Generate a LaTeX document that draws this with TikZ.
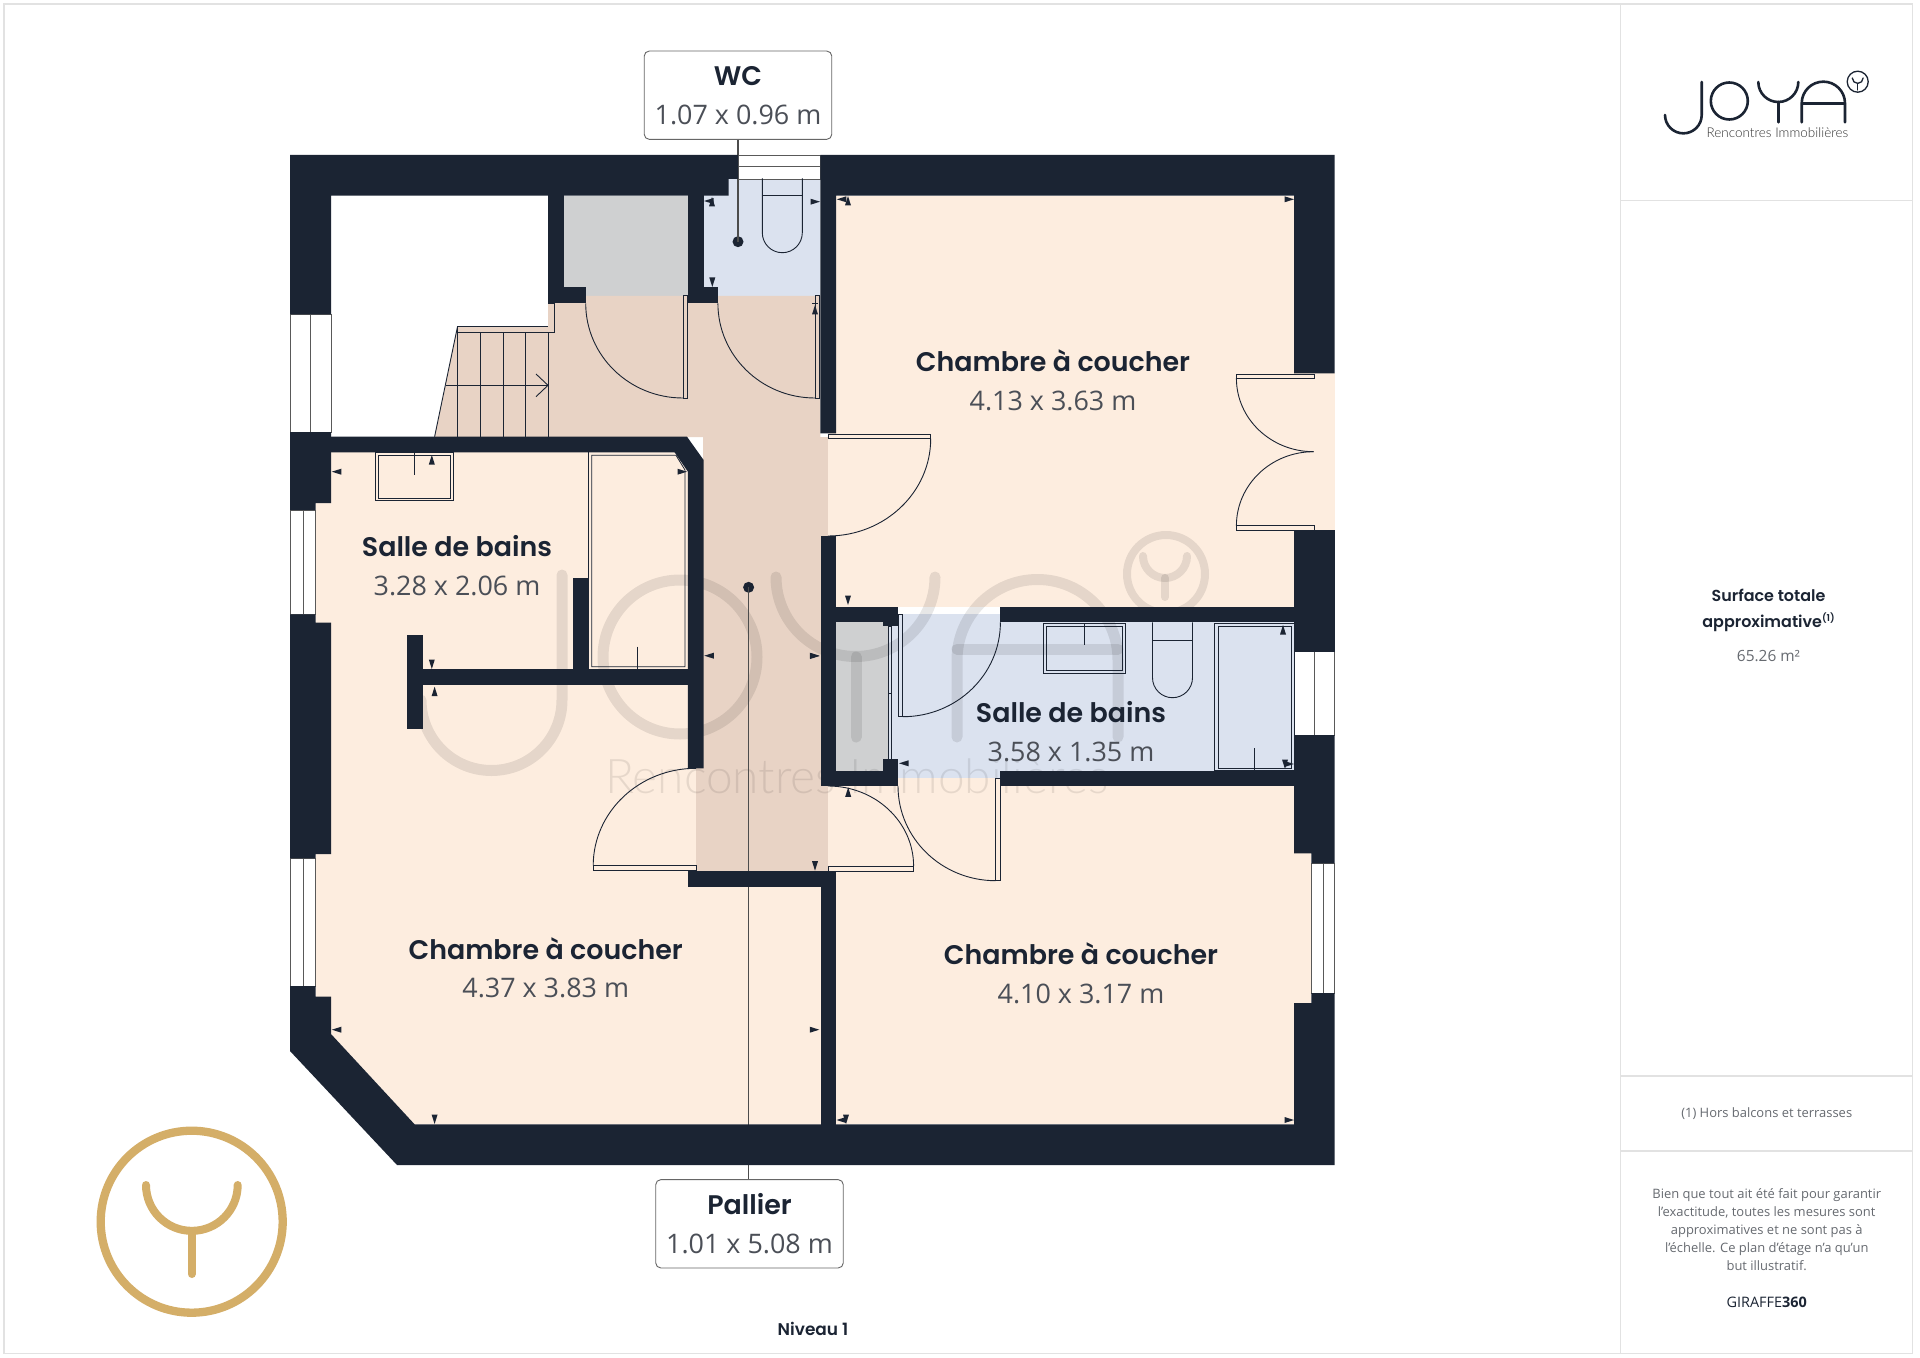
\documentclass[tikz,border=0pt]{standalone}
\usepackage{fontspec}
\setmainfont{Open Sans}
\newfontfamily\ttl{Poppins SemiBold}
\newfontfamily\lightf{Lato Light}
\newfontfamily\dimf{Open Sans}
\definecolor{wallc}{HTML}{1B2433}
\definecolor{cream}{HTML}{FDEDDF}
\definecolor{tone}{HTML}{E8D3C5}
\definecolor{bluec}{HTML}{DBE2EF}
\definecolor{greyc}{HTML}{CFD0D1}
\definecolor{gold}{HTML}{D4AE68}
\definecolor{framec}{HTML}{E2E2E2}
\definecolor{dimc}{HTML}{4B4F57}
\definecolor{notec}{HTML}{666A70}
\tikzset{
  wall/.style={fill=wallc,draw=none},
  ln/.style={draw=wallc,line width=0.9bp},
  winbox/.style={fill=white,draw=black!65,line width=0.8bp},
  doorframe/.style={fill=cream,draw=wallc,line width=0.8bp},
  toneframe/.style={fill=tone,draw=wallc,line width=0.8bp},
  roomtxt/.style={align=center,inner sep=0pt,text=wallc,font=\fontsize{27}{39}\selectfont},
  tagbox/.style={draw=black!60,line width=0.9bp,rounded corners=5bp,fill=white,minimum width=187.5bp,minimum height=88.3bp,align=center,inner sep=0pt,text=wallc,font=\fontsize{27}{39}\selectfont},
  dotn/.style={circle,fill=wallc,inner sep=0pt,minimum size=11bp},
  wm/.style={draw=black,draw opacity=0.095,line width=11bp,line cap=round},
  paneltxt/.style={align=center,inner sep=0pt,text=notec},
  mark/.style={}
}
\newcommand{\rlabel}[2]{\rule{0pt}{22pt}{\ttl\color{wallc}#1}\\{\dimf\color{dimc}#2}\rule[-8pt]{0pt}{8pt}}
\newcommand{\blabel}[2]{\rule{0pt}{28pt}{\ttl\color{wallc}#1}\\{\dimf\color{dimc}#2}\rule[-8pt]{0pt}{8pt}}
% triangles: tip at (x,y)
\newcommand{\tl}[2]{\fill[wallc] (#1,#2) -- ++(9.5,-3) -- ++(0,6) -- cycle;}
\newcommand{\trr}[2]{\fill[wallc] (#1,#2) -- ++(-9.5,-3) -- ++(0,6) -- cycle;}
\newcommand{\tu}[2]{\fill[wallc] (#1,#2) -- ++(-3,9.5) -- ++(6,0) -- cycle;}
\newcommand{\td}[2]{\fill[wallc] (#1,#2) -- ++(-3,-9.5) -- ++(6,0) -- cycle;}
\begin{document}
\begin{tikzpicture}[x=1bp,y=-1bp]
\useasboundingbox (0,0) rectangle (1920,1358);
\fill[white] (0,0) rectangle (1920,1358);
% frames
\draw[framec,line width=1.4bp] (4,4) rectangle (1620.7,1353.3);
\draw[framec,line width=1.4bp] (1620.7,4) rectangle (1912.7,1353.3);
\draw[framec,line width=1.4bp] (1620.7,200.3) -- (1912.7,200.3);
\draw[framec,line width=1.4bp] (1620.7,1076) -- (1912.7,1076);
\draw[framec,line width=1.4bp] (1620.7,1151) -- (1912.7,1151);
% room fills
\fill[cream] (315.7,452) -- (696,452) -- (696,871) -- (821,871) -- (821,1124.3) -- (414.6,1124.3) -- (331,1034) -- (315.7,1000) -- cycle;
\fill[cream] (828,195.7) rectangle (1294,607);
\fill[cream] (1294,373.3) rectangle (1334.6,530);
\fill[cream] (828,786) rectangle (1311.4,1124.3);
\fill[cream] (898,778.3) rectangle (1000.4,786);
\fill[greyc] (564,195.7) rectangle (687.5,296);
\fill[bluec] (703.6,179) rectangle (820.4,296);
\fill[tone] (548,303.3) -- (548,296) -- (820.4,296) -- (820.4,437) -- (434.6,437) -- (457.5,326.7) -- (548,326.7) -- cycle;
\fill[tone] (703,437) rectangle (828,768.3);
\fill[tone] (696,768.3) rectangle (828,871);
\fill[greyc] (836,622.3) rectangle (888,770.7);
\fill[bluec] (888,622.3) rectangle (1294,770.7);
\fill[bluec] (898,614.3) rectangle (1000.4,778.3);
% watermark
\draw[wm] (421,700) arc[start angle=180,end angle=0,radius=70.5] -- (562,575);
\draw[wm] (680,657) circle[radius=77];
\draw[wm] (776,577) arc[start angle=180,end angle=0,radius=79.5];
\draw[wm] (856,657) -- (856,737);
\draw[wm] (957,737) -- (957,660) arc[start angle=180,end angle=360,radius=80.5] -- (1118,737);
\draw[wm] (957,649) -- (1118,649);
\draw[black,draw opacity=0.095,line width=8bp] (1166,574) circle[radius=39];
\draw[black,draw opacity=0.095,line width=8bp,line cap=round] (1143,556) arc[start angle=180,end angle=0,radius=22];
\draw[black,draw opacity=0.095,line width=8bp,line cap=round] (1165,578) -- (1165,597);
\node[inner sep=0pt,text=black,text opacity=0.09,font=\lightf\fontsize{48}{48}\selectfont] (wmtext) at (857,776) {Rencontres Immobilières};
% stairs
\draw[ln] (457.5,326.7) -- (434.6,436.7);
\draw[toneframe,fill=tone] (548,303.3) -- (554,303.3) -- (554,332.7) -- (457.5,332.7) -- (457.5,326.7) -- (548,326.7);
\foreach \xs in {457.5,480.4,503.2,525.7,548.2} {\draw[ln] (\xs,332.7) -- (\xs,436.7);}
\draw[ln] (446,385.3) -- (548,385.3);
\draw[ln] (536,374) -- (548,385.3) -- (536,396.7);
% labels and connectors
\node[tagbox] (wc) at (738,95.2) {\blabel{WC}{1.07 x 0.96 m}};
\node[tagbox] (pallier) at (749.5,1223.8) {\blabel{Pallier}{1.01 x 5.08 m}};
\node[dotn] (dotwc) at (738,241.7) {};
\node[dotn] (dotpal) at (748.6,587.3) {};
\draw[black!70,line width=1.1bp] (wc.south) -- (dotwc.center);
\draw[black!70,line width=1.1bp] (dotpal.center) -- (dotpal |- pallier.north);
% windows
\draw[winbox] (290,314.3) rectangle (331,432); \draw[winbox] (310.7,314.3) -- (310.7,432);
\draw[winbox] (290,510) rectangle (315.7,614.3); \draw[winbox] (303,510) -- (303,614.3);
\draw[winbox] (290,858.3) rectangle (315.7,986); \draw[winbox] (303,858.3) -- (303,986);
\draw[winbox] (738,155) rectangle (820.4,179); \draw[winbox] (738,166.7) -- (820.4,166.7);
\draw[winbox] (1294.7,651.7) rectangle (1334.6,735); \draw[winbox] (1314,651.7) -- (1314,735);
\draw[winbox] (1311.4,863.3) rectangle (1334.6,993); \draw[winbox] (1323,863.3) -- (1323,993);
% walls
\fill[wall] (290,155) -- (738,155) -- (738,179) -- (728.6,179) -- (728.6,195.7) -- (331,195.7) -- (331,314.3) -- (290,314.3) -- cycle;
\fill[wall] (290,432) -- (331,432) -- (331,503) -- (315.7,503) -- (315.7,510) -- (290,510) -- cycle;
\fill[wall] (331,436.7) -- (687,436.7) -- (703.6,460) -- (703.6,768.3) -- (687.9,768.3) -- (687.9,471.7) -- (674.6,452.3) -- (331,452.3) -- cycle;
\fill[wall] (290,614.3) -- (315.7,614.3) -- (315.7,622.7) -- (331,622.7) -- (331,854) -- (315.7,854) -- (315.7,858.3) -- (290,858.3) -- cycle;
\fill[wall] (290,986) -- (315.7,986) -- (315.7,996.7) -- (331,996.7) -- (331,1034) -- (414.6,1124.3) -- (1294,1124.3) -- (1294,1003) -- (1311.4,1003) -- (1311.4,993) -- (1334.6,993) -- (1334.6,1165) -- (397,1165) -- (290,1051) -- cycle;
\fill[wall] (820.7,871) rectangle (836,1124.5);
\fill[wall] (687.9,870.7) rectangle (836,887.3);
\fill[wall] (820.4,155) -- (1334.6,155) -- (1334.6,373.3) -- (1294,373.3) -- (1294,195.7) -- (836,195.7) -- (836,433.3) -- (820.4,433.3) -- cycle;
\fill[wall] (1294,530) rectangle (1334.6,651.7);
\fill[wall] (1294,735) -- (1334.6,735) -- (1334.6,863.3) -- (1311.4,863.3) -- (1311.4,853.3) -- (1294,853.3) -- cycle;
\fill[wall] (1000.4,606.7) rectangle (1294.5,622.3);
\fill[wall] (1000.4,770.7) rectangle (1294.5,786);
\fill[wall] (820.7,536) rectangle (836,786);
\fill[wall] (836,606.7) rectangle (898,622.3);
\fill[wall] (882.5,606.7) rectangle (898,626);
\fill[wall] (820.7,770.7) rectangle (898,786);
\fill[wall] (882.5,759.3) rectangle (898,786);
\fill[wall] (548,195) rectangle (564,303.3);
\fill[wall] (564,287.3) rectangle (585.7,303.3);
\fill[wall] (687.5,195) rectangle (703.6,303.3);
\fill[wall] (703.6,287.3) rectangle (717.9,303.3);
\fill[wall] (407,669.3) rectangle (688,685.3);
\fill[wall] (407,635) rectangle (423,729);
\fill[wall] (572.9,577.7) rectangle (588.6,669.3);
% doors
\draw[toneframe] (682.9,295.7) rectangle (687.5,398);
\draw[ln] (585.7,303.3) arc[start angle=180,end angle=90,x radius=97.2,y radius=94.7];
\draw[toneframe] (815,295.7) rectangle (819.6,398);
\draw[ln] (717.9,303.3) arc[start angle=180,end angle=90,x radius=97.1,y radius=94.7];
\draw[doorframe] (827.9,434) rectangle (930.7,438.7);
\draw[ln] (930.7,438.7) arc[start angle=0,end angle=90,x radius=102.8,y radius=97.3];
\draw[doorframe] (1236.4,374) rectangle (1314.6,378.3);
\draw[ln] (1236.4,378.3) arc[start angle=180,end angle=90,x radius=77.2,y radius=73.4];
\draw[doorframe] (1236.4,525.7) rectangle (1314.6,530);
\draw[ln] (1236.4,525.7) arc[start angle=180,end angle=270,x radius=77.2,y radius=74];
\draw[doorframe] (593.2,865.7) rectangle (696,870.3);
\draw[ln] (593.2,865.7) arc[start angle=180,end angle=270,x radius=102.8,y radius=97.4];
\draw[doorframe] (827.9,866) rectangle (913.6,871);
\draw[ln] (913.6,866) arc[start angle=0,end angle=-90,x radius=85.7,y radius=80];
\draw[doorframe] (995.7,778.3) rectangle (1000.4,880.7);
\draw[ln] (898,786) arc[start angle=180,end angle=90,x radius=97.7,y radius=94.7];
\draw[ln,fill=bluec] (898,614.3) rectangle (902.9,716.7);
\draw[ln] (902.9,716.7) arc[start angle=90,end angle=0,x radius=97.5,y radius=94.4];
% closet sliding doors
\draw[ln,line width=0.7bp] (888.2,626) rectangle (891.8,759.3);
\draw[ln,line width=0.7bp] (888.2,693.3) -- (891.8,693.3);
% WC toilet
\draw[ln] (762.3,178.3) -- (762.3,232.7) arc[start angle=180,end angle=0,radius=20] -- (802.3,178.3);
\draw[ln] (762.3,195.3) -- (802.3,195.3);
\draw[ln,line width=0.7bp] (812,303) -- (818,303);
% bath 2 fixtures
\draw[ln,line width=0.8bp] (1043.6,623.3) rectangle (1125.4,673.3);
\draw[ln,line width=0.8bp] (1046.4,626) rectangle (1122.5,670.7);
\draw[ln] (1084.3,623.3) -- (1084.3,645);
\draw[ln] (1152.5,622.3) -- (1152.5,677.7) arc[start angle=180,end angle=0,radius=20] -- (1192.5,622.3);
\draw[ln] (1152.5,640) -- (1192.5,640);
\draw[ln,line width=0.8bp] (1214.3,623.3) rectangle (1294,770.7);
\draw[ln,line width=0.8bp] (1217.9,626) rectangle (1291.4,768);
\draw[ln] (1254.3,748) -- (1254.3,770.7);
% bath 1 fixtures
\draw[ln,line width=0.8bp] (375.4,452.3) rectangle (453.2,500.7);
\draw[ln,line width=0.8bp] (378.2,455.3) rectangle (450.4,498);
\draw[ln] (414.3,452.3) -- (414.3,475);
\draw[ln,line width=0.8bp] (588.6,669.3) -- (588.6,452.3);
\draw[ln,line width=0.8bp] (591.8,666.7) -- (591.8,455.3) -- (676,455.3) -- (685,470) -- (685,666.7) -- cycle;
\draw[ln] (637.9,646.7) -- (637.9,669.3);
% markers
\tl{704}{201}\tu{712}{197}\trr{820}{201.7}\td{712.3}{287}\tu{815}{305}
\tl{836.8}{199.3}\tu{848}{196}\trr{1294}{199.3}\td{848}{605}
\trr{819.6}{656}\tl{899}{763.3}\tu{1283}{625}\trr{1294}{764}\td{1285}{769}\tu{848.2}{787.3}\td{815}{870.7}
\td{846}{1124}\tl{836.5}{1120}\trr{1294}{1120}
\tl{331.8}{471.7}\tu{431.8}{455}\trr{687}{471.7}\td{431.8}{669}\tu{434.6}{686.7}\tl{704.3}{655.7}\trr{819.3}{655.7}
\tl{331.8}{1029.7}\trr{819.3}{1029.7}\td{434.6}{1124}
% room labels
\node[roomtxt] (ch1) at (1053,384) {\rlabel{Chambre à coucher}{4.13 x 3.63 m}};
\node[roomtxt] (sb1) at (457,569) {\rlabel{Salle de bains}{3.28 x 2.06 m}};
\node[roomtxt] (sb2) at (1071,735) {\rlabel{Salle de bains}{3.58 x 1.35 m}};
\node[roomtxt] (ch2) at (545.7,971.5) {\rlabel{Chambre à coucher}{4.37 x 3.83 m}};
\node[roomtxt] (ch3) at (1081,977) {\rlabel{Chambre à coucher}{4.10 x 3.17 m}};
\node[inner sep=0pt,text=wallc,font=\ttl\fontsize{17}{20}\selectfont] (niveau) at (813,1329) {Niveau 1};
% gold logo
\draw[gold,line width=8.3bp] (191.7,1221.7) circle[radius=91];
\draw[gold,line width=8bp,line cap=round] (146,1185) arc[start angle=180,end angle=0,radius=45.85];
\draw[gold,line width=8bp,line cap=round] (191.7,1231) -- (191.7,1274);
% top logo
\draw[wallc,line width=2.6bp,line cap=round] (1665,115) arc[start angle=180,end angle=0,radius=18.35] -- (1701.7,82);
\draw[wallc,line width=2.6bp] (1729.3,101) circle[radius=18.5];
\draw[wallc,line width=2.6bp,line cap=round] (1758.3,82) arc[start angle=180,end angle=0,radius=20];
\draw[wallc,line width=2.6bp,line cap=round] (1778.3,102) -- (1778.3,122.3);
\draw[wallc,line width=2.6bp,line cap=round] (1801.7,122.3) -- (1801.7,103.3) arc[start angle=180,end angle=360,radius=21.65] -- (1845,122.3);
\draw[wallc,line width=2.6bp] (1801.7,103.3) -- (1845,103.3);
\draw[wallc,line width=1.3bp] (1857.7,81.7) circle[radius=10.5];
\draw[wallc,line width=1.3bp,line cap=round] (1852.3,78) arc[start angle=180,end angle=0,radius=5.4];
\draw[wallc,line width=1.3bp,line cap=round] (1857.7,83.4) -- (1857.7,90);
\node[inner sep=0pt,text=black!80,font=\lightf\fontsize{13.5}{14}\selectfont] (tagline) at (1777.5,132.5) {Rencontres Immobilières};
% panel text
\node[inner sep=0pt,align=center,text=wallc,font=\ttl\fontsize{16}{26}\selectfont] (surf) at (1768.5,610) {Surface totale\\approximative\raisebox{6bp}{\fontsize{9.5}{10}\selectfont (1)}};
\node[inner sep=0pt,text=notec,font=\fontsize{15.5}{18}\selectfont] (surfv) at (1768.5,656) {65.26 m²};
\node[paneltxt,font=\fontsize{13}{18}\selectfont] (hors) at (1766.7,1114) {(1) Hors balcons et terrasses};
\node[paneltxt,font=\fontsize{13}{18}\selectfont] (disc) at (1766.7,1229.7) {Bien que tout ait été fait pour garantir\\l’exactitude, toutes les mesures sont\\approximatives et ne sont pas à\\l’échelle. Ce plan d’étage n’a qu’un\\but illustratif.};
\node[inner sep=0pt,text=wallc,font=\fontsize{14.5}{16}\selectfont] (giraffe) at (1766.7,1302) {GIRAFFE{\bfseries 360}};
\end{tikzpicture}
\end{document}
